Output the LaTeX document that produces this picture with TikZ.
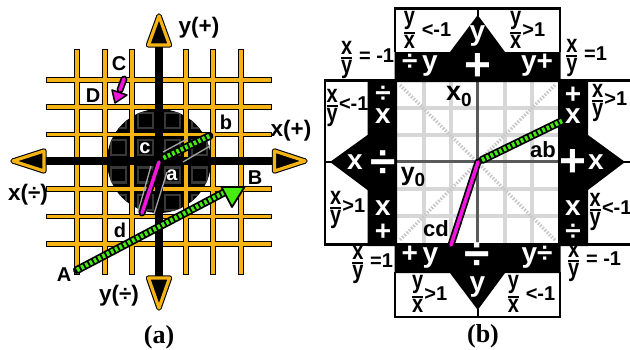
\documentclass[tikz,border=0pt]{standalone}
\usepackage{fontspec}
\setmainfont{Liberation Sans}
\newfontfamily\capfont{Liberation Serif}
\usetikzlibrary{positioning}
\definecolor{gridorange}{RGB}{245,180,20}
\definecolor{stripegreen}{RGB}{70,235,15}
\definecolor{pathmagenta}{RGB}{240,20,220}
\definecolor{ringgray}{RGB}{56,56,56}
\definecolor{axisgray}{RGB}{90,90,90}
\definecolor{cellgray}{RGB}{215,215,215}
\definecolor{diaggray}{RGB}{200,200,200}
\newcommand{\ratio}[2]{\raisebox{-0.2ex}{\scalebox{1}[1.25]{\ensuremath{{\displaystyle\mbox{\bfseries #1}\above 1.5pt\displaystyle\mbox{\bfseries #2}}}}}}
\newcommand{\subzero}[1]{#1\raisebox{-6pt}{\fontsize{19}{19}\selectfont 0}}
\tikzset{
  lbl/.style={inner sep=0pt, font=\fontsize{20}{20}\selectfont\bfseries},
  axislbl/.style={inner sep=0pt, font=\fontsize{22.5}{22.5}\selectfont\bfseries},
  fraclbl/.style={inner sep=0pt, font=\fontsize{20}{20}\selectfont\bfseries},
  signlbl/.style={inner sep=0pt, text=white, font=\fontsize{28}{28}\selectfont\bfseries},
  bigsign/.style={inner sep=0pt, text=white, font=\fontsize{46}{46}\selectfont\bfseries},
  caplbl/.style={inner sep=0pt, font=\fontsize{26}{26}\selectfont\capfont\bfseries},
  gridout/.style={line width=5.4pt, black, line cap=rect},
  gridin/.style={line width=3.4pt, gridorange, line cap=rect},
  headout/.style={draw=black, line width=5.4pt, line join=round},
  headin/.style={draw=gridorange, fill=black, line width=3.2pt, line join=round},
  stripeout/.style={line width=8pt, black, line cap=round},
  stripein/.style={line width=4.6pt, stripegreen, dash pattern=on 2.8pt off 2pt},
  pathout/.style={line width=7pt, black, line cap=round},
  pathin/.style={line width=3.6pt, pathmagenta, line cap=round},
  darkbar/.style={fill=black},
  boxline/.style={draw=black, line width=2.2pt},
}
\begin{document}
\begin{tikzpicture}[x=1pt, y=-1pt]
  \useasboundingbox (0,0) rectangle (630,349);

  % panel a
  \fill[black] (159,161) circle (52);
  \begin{scope}
    \clip (159,161) circle (52);
    \foreach \cx in {118.5,145.5,172.5,199.5}
      \foreach \cy in {120.5,147.5,175,202.5}
        \draw[ringgray, line width=2.4pt] (\cx-7.5,\cy-7.5) rectangle (\cx+7.5,\cy+7.5);
  \end{scope}
  \foreach \gx in {77,105,132,186,213,241}
    \draw[gridout] (\gx,52) -- (\gx,272);
  \foreach \gy in {80,107,134.5,189,216.5,244}
    \draw[gridout] (49,\gy) -- (269,\gy);
  \foreach \gx in {77,105,132,186,213,241}
    \draw[gridin] (\gx,52) -- (\gx,272);
  \foreach \gy in {80,107,134.5,189,216.5,244}
    \draw[gridin] (49,\gy) -- (269,\gy);

  \coordinate (yplus) at (159,30);
  \coordinate (yminus) at (159,295);
  \coordinate (xminus) at (28,161);
  \coordinate (xplus) at (290,161);
  \draw[black, line width=8pt] (yplus) -- (yminus);
  \draw[black, line width=8pt] (xminus) -- (xplus);
  \foreach \ax/\ay/\bx/\by/\dx/\dy in {159/16/148.5/45/169.5/45, 159/308/148.5/278/169.5/278, 13/161/44/151/44/171, 305/161/274.5/151/274.5/171} {
    \draw[headout] (\ax,\ay) -- (\bx,\by) -- (\dx,\dy) -- cycle;
    \draw[headin] (\ax,\ay) -- (\bx,\by) -- (\dx,\dy) -- cycle;
  }

  \draw[gray!70, line width=1.3pt] (163,152) -- (187,139);
  \draw[gray!70, line width=1.3pt] (183,162) -- (210,146);
  \draw[gray!70, line width=1.3pt] (151,166) -- (138,212);
  \draw[gray!70, line width=1.3pt] (167,172) -- (154,214);

  \node[axislbl] (yplusl) at (199,28) {y(+)};
  \node[axislbl] (xplusl) at (291,131) {x(+)};
  \node[axislbl] (xminusl) at (28,195) {x(÷)};
  \node[axislbl] (yminusl) at (119,296) {y(÷)};
  \node[lbl] (ptC) at (119,64) {C};
  \node[lbl] (ptD) at (93,96) {D};
  \node[lbl] (ptB) at (255,178) {B};
  \node[lbl] (ptA) at (64,275) {A};
  \node[lbl] (ptb) at (226,122) {b};
  \node[lbl] (ptd) at (120,230) {d};
  \node[lbl, text=white] (ptc) at (145,148) {c};
  \node[lbl, text=white] (pta) at (172,175) {a};

  \coordinate (segA) at (77,270);
  \coordinate (segB) at (225,192);
  \draw[stripeout] (segA) -- (segB);
  \draw[stripein] (segA) -- (segB);
  \draw[draw=black, fill=stripegreen, line width=1.8pt, line join=round] (221.5,187) -- (244.5,187) -- (232,207) -- cycle;
  \coordinate (sega) at (163.5,158);
  \coordinate (segb) at (209.5,136);
  \draw[stripeout] (sega) -- (segb);
  \draw[stripein] (sega) -- (segb);
  \coordinate (segc) at (159,162);
  \coordinate (segd) at (142,213);
  \draw[pathout] (segc) -- (segd);
  \draw[pathin] (segc) -- (segd);
  \coordinate (segC) at (124,79);
  \coordinate (segD) at (120,90);
  \draw[pathout] (segC) -- (segD);
  \draw[pathin] (segC) -- (segD);
  \draw[draw=black, fill=pathmagenta, line width=1.5pt, line join=round] (112,90) -- (127,95) -- (115,103) -- cycle;

  \node[caplbl] (capa) at (159,337) {(a)};

  % panel b
  \foreach \vx in {424,451,505,532}
    \draw[cellgray, line width=3.2pt] (\vx,82) -- (\vx,243);
  \foreach \vy in {108,135,189,216}
    \draw[cellgray, line width=3.2pt] (397,\vy) -- (558,\vy);
  \draw[diaggray, line width=3.4pt, dash pattern=on 1.6pt off 1.6pt] (400,85) -- (555,240);
  \draw[diaggray, line width=3.4pt, dash pattern=on 1.6pt off 1.6pt] (555,85) -- (400,240);
  \draw[axisgray, line width=3.2pt] (477.5,82) -- (477.5,243);
  \draw[axisgray, line width=3.2pt] (397,161.5) -- (558,161.5);

  \draw[boxline] (395,52) -- (395,8.5) -- (560,8.5) -- (560,52);
  \draw[boxline] (477.7,8.5) -- (477.7,16);
  \draw[boxline] (395,272) -- (395,317) -- (560,317) -- (560,272);
  \draw[boxline] (477.7,317) -- (477.7,309);
  \draw[boxline] (368,80.5) -- (325,80.5) -- (325,244.5) -- (368,244.5);
  \draw[boxline] (325,162) -- (332,162);
  \draw[boxline] (588,80.5) -- (632,80.5);
  \draw[boxline] (588,244.5) -- (632,244.5);
  \draw[boxline] (624,162) -- (632,162);

  \fill[darkbar] (394.5,82) -- (394.5,52) -- (450,52) -- (477.7,15) -- (505,52) -- (560.5,52) -- (560.5,82) -- cycle;
  \fill[darkbar] (394.5,243) -- (394.5,273) -- (450,273) -- (477.7,310) -- (505,273) -- (560.5,273) -- (560.5,243) -- cycle;
  \fill[darkbar] (397,79) -- (367.5,79) -- (367.5,135) -- (330,162) -- (367.5,190) -- (367.5,246) -- (397,246) -- cycle;
  \fill[darkbar] (558,79) -- (588,79) -- (588,135) -- (625,162) -- (588,190) -- (588,246) -- (558,246) -- cycle;

  \coordinate (outab) at (482,160);
  \coordinate (endab) at (562,121);
  \draw[stripeout] (outab) -- (endab);
  \draw[stripein] (outab) -- (endab);
  \coordinate (outcd) at (478,162);
  \coordinate (endcd) at (451,245);
  \draw[pathout] (outcd) -- (endcd);
  \draw[pathin] (outcd) -- (endcd);

  \node[signlbl] (ytop) at (477.5,36) {y};
  \node[signlbl] (divyt) at (420,65) {÷\,y};
  \node[bigsign] (plust) at (477.5,67) {+};
  \node[signlbl] (yplust) at (537,65) {y+};
  \node[signlbl] (plusyb) at (420,257) {+\,y};
  \node[bigsign] (divb) at (477.5,256) {÷};
  \node[signlbl] (ydivb) at (537,257) {y÷};
  \node[signlbl] (ybot) at (477.5,287) {y};
  \node[signlbl] (divl) at (383,94) {÷};
  \node[signlbl] (xl) at (383,116) {x};
  \node[signlbl] (xmid) at (355,162) {x};
  \node[bigsign] (divm) at (383,164) {÷};
  \node[signlbl] (xlb) at (383,208) {x};
  \node[signlbl] (plusl) at (383,232) {+};
  \node[signlbl] (plusr) at (573,95) {+};
  \node[signlbl] (xr) at (573,116) {x};
  \node[bigsign] (plusm) at (573,163) {+};
  \node[signlbl] (xmidr) at (596,162) {x};
  \node[signlbl] (xrb) at (573,208) {x};
  \node[signlbl] (divr) at (573,232) {÷};

  \node[lbl] (x0) at (459,96) {\fontsize{27}{27}\selectfont\subzero{x}};
  \node[lbl] (y0) at (413,177) {\fontsize{25}{25}\selectfont\subzero{y}};
  \node[lbl, font=\fontsize{22}{22}\selectfont\bfseries] (labab) at (543,150) {ab};
  \node[lbl, font=\fontsize{22}{22}\selectfont\bfseries] (labcd) at (436,229) {cd};

  \node[fraclbl] (yxa) at (427,30) {\ratio{y}{x} <-1};
  \node[fraclbl] (yxb) at (527,30) {\ratio{y}{x}>1};
  \node[fraclbl] (xya) at (367,60) {\ratio{x}{y} = -1};
  \node[fraclbl] (xyb) at (586,58) {\ratio{x}{y} =1};
  \node[fraclbl] (xyc) at (347,108) {\ratio{x}{y}<-1};
  \node[fraclbl] (xyd) at (347,210) {\ratio{x}{y}>1};
  \node[fraclbl] (xye) at (609,103) {\ratio{x}{y}>1};
  \node[fraclbl] (xyf) at (610,212) {\ratio{x}{y}<-1};
  \node[fraclbl] (xyg) at (372,265) {\ratio{x}{y} =1};
  \node[fraclbl] (xyh) at (594,263) {\ratio{x}{y} = -1};
  \node[fraclbl] (yxc) at (429,294) {\ratio{y}{x}>1};
  \node[fraclbl] (yxd) at (531,294) {\ratio{y}{x} <-1};

  \node[caplbl] (capb) at (483,336) {(b)};
\end{tikzpicture}
\end{document}
